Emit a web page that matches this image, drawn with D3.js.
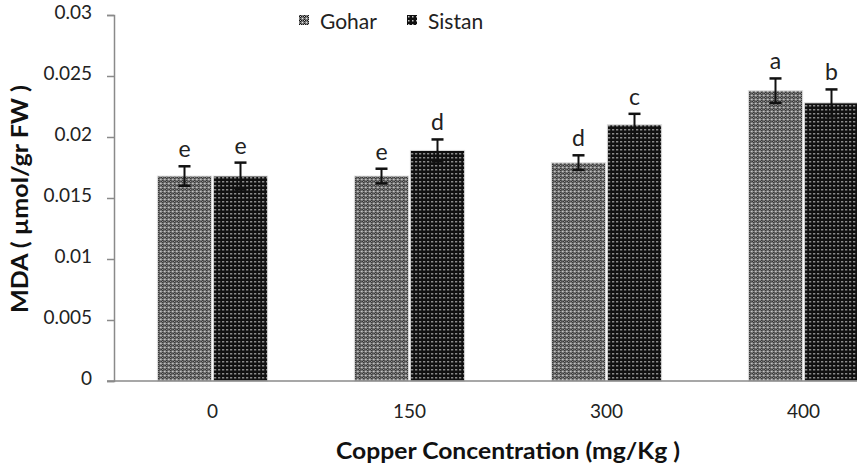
<!DOCTYPE html>
<html>
<head>
<meta charset="utf-8">
<script src="https://cdn.jsdelivr.net/npm/d3@7"></script>
<style>
  body { margin: 0; background: #fff; }
  svg { display: block; font-family: Lato, "Open Sans", sans-serif; }
</style>
</head>
<body>
<svg id="chart" width="857" height="466"></svg>
<script>
// data
var categories = ["0", "150", "300", "400"];
var series = ["Gohar", "Sistan"];
var gohar = [0.0168, 0.0168, 0.0179, 0.0238];
var sistan = [0.0168, 0.0189, 0.0210, 0.0228];
var goharErr = [0.0008, 0.0006, 0.0006, 0.0010];
var sistanErr = [0.0011, 0.0009, 0.0009, 0.0011];
var goharLetters = ["e", "e", "d", "a"];
var sistanLetters = ["e", "d", "c", "b"];
var yTicks = [0, 0.005, 0.01, 0.015, 0.02, 0.025, 0.03];

var svg = d3.select("#chart"),
    pLeft = 114, pRight = 902, pTop = 15, pBottom = 381;

var y = d3.scaleLinear().domain([0, 0.03]).range([pBottom, pTop]);
var x0 = d3.scaleBand().domain(categories).range([pLeft, pRight])
    .paddingInner(0.44).paddingOuter(0.22);
var x1 = d3.scaleBand().domain(series).range([0, x0.bandwidth()]).paddingInner(0.03);

// fill patterns (dotted Excel-like fills)
var defs = svg.append("defs");
var pg = defs.append("pattern").attr("id", "pGohar")
    .attr("patternUnits", "userSpaceOnUse").attr("width", 4).attr("height", 4);
pg.append("rect").attr("width", 4).attr("height", 4).attr("fill", "#7c7c7c");
[[1, 0], [0, 1], [2, 1], [1, 2]].forEach(function (p) {
    pg.append("rect").attr("x", p[0]).attr("y", p[1]).attr("width", 1).attr("height", 1).attr("fill", "#151515");
});
pg.append("rect").attr("x", 1).attr("y", 1).attr("width", 1).attr("height", 1).attr("fill", "#cfcfcf");
pg.append("rect").attr("x", 3).attr("y", 3).attr("width", 1).attr("height", 1).attr("fill", "#e6e6e6");

var ps = defs.append("pattern").attr("id", "pSistan")
    .attr("patternUnits", "userSpaceOnUse").attr("width", 4).attr("height", 4);
ps.append("rect").attr("width", 4).attr("height", 4).attr("fill", "#101010");
ps.append("rect").attr("x", 1).attr("y", 1).attr("width", 1.5).attr("height", 1.5).attr("fill", "#c8c8c8");

var fills = {Gohar: "url(#pGohar)", Sistan: "url(#pSistan)"};

// y axis
var yAxis = svg.append("g").attr("transform", "translate(" + pLeft + ",0)")
    .call(d3.axisLeft(y).tickValues(yTicks).tickSize(7).tickPadding(15)
        .tickFormat(function (d) { return d === 0 ? "0" : String(+d.toFixed(3)); }));
yAxis.select(".domain").attr("stroke", "#8a8a8a").attr("stroke-width", 1.5);
yAxis.selectAll(".tick line").attr("stroke", "#8a8a8a").attr("stroke-width", 1.5);
yAxis.selectAll(".tick text").attr("font-size", 19).attr("fill", "#222")
    .attr("font-family", "Lato, sans-serif").attr("dy", "0.2em");

// bars
var rows = categories.map(function (c, i) {
    return [
        {cat: c, s: "Gohar", v: gohar[i], e: goharErr[i], t: goharLetters[i]},
        {cat: c, s: "Sistan", v: sistan[i], e: sistanErr[i], t: sistanLetters[i]}
    ];
});

var groups = svg.selectAll(".grp").data(rows).enter().append("g")
    .attr("class", "grp")
    .attr("transform", function (d) { return "translate(" + x0(d[0].cat) + ",0)"; });

groups.selectAll("rect.bar").data(function (d) { return d; }).enter().append("rect")
    .attr("class", "bar")
    .attr("x", function (d) { return x1(d.s); })
    .attr("y", function (d) { return y(d.v); })
    .attr("width", x1.bandwidth())
    .attr("height", function (d) { return y(0) - y(d.v); })
    .attr("fill", function (d) { return fills[d.s]; })
    .attr("stroke", "#e2e2e2").attr("stroke-width", 1);

// error bars
var eb = groups.selectAll("g.err").data(function (d) { return d; }).enter().append("g")
    .attr("class", "err")
    .attr("stroke", "#111");
eb.append("line")
    .attr("x1", function (d) { return x1(d.s) + x1.bandwidth() / 2; })
    .attr("x2", function (d) { return x1(d.s) + x1.bandwidth() / 2; })
    .attr("y1", function (d) { return y(d.v + d.e); })
    .attr("y2", function (d) { return y(d.v - d.e); })
    .attr("stroke-width", 2);
eb.selectAll("line.cap").data(function (d) { return [d.v + d.e, d.v - d.e].map(function (v) { return {s: d.s, v: v}; }); })
    .enter().append("line").attr("class", "cap")
    .attr("x1", function (d) { return x1(d.s) + x1.bandwidth() / 2 - 6; })
    .attr("x2", function (d) { return x1(d.s) + x1.bandwidth() / 2 + 6; })
    .attr("y1", function (d) { return y(d.v); })
    .attr("y2", function (d) { return y(d.v); })
    .attr("stroke-width", 2.5);

// significance letters
groups.selectAll("text.let").data(function (d) { return d; }).enter().append("text")
    .attr("class", "let")
    .attr("x", function (d) { return x1(d.s) + x1.bandwidth() / 2; })
    .attr("y", function (d) { return y(d.v + d.e) - 9; })
    .attr("text-anchor", "middle")
    .attr("font-size", 23).attr("fill", "#222")
    .text(function (d) { return d.t; });

// x axis
var xAxis = svg.append("g").attr("transform", "translate(0," + pBottom + ")")
    .call(d3.axisBottom(x0).tickSize(0).tickPadding(24));
xAxis.select(".domain").remove();
svg.append("line").attr("x1", pLeft - 7).attr("x2", 857).attr("y1", pBottom).attr("y2", pBottom)
    .attr("stroke", "#8a8a8a").attr("stroke-width", 1.5);
xAxis.selectAll(".tick text").attr("font-size", 19).attr("fill", "#222")
    .attr("font-family", "Lato, sans-serif");

// axis titles
svg.append("text")
    .attr("x", (pLeft + pRight) / 2).attr("y", 459)
    .attr("text-anchor", "middle").attr("font-size", 22).attr("font-weight", "bold")
    .attr("fill", "#111")
    .attr("textLength", 344).attr("lengthAdjust", "spacingAndGlyphs")
    .text("Copper Concentration (mg/Kg )");

svg.append("text")
    .attr("transform", "translate(28,199) rotate(-90)")
    .attr("text-anchor", "middle").attr("font-size", 22).attr("font-weight", "bold")
    .attr("fill", "#111")
    .attr("textLength", 228).attr("lengthAdjust", "spacingAndGlyphs")
    .text("MDA ( µmol/gr FW  )");

// legend
var legend = svg.append("g").selectAll("g").data(series).enter().append("g")
    .attr("transform", function (d, i) { return "translate(" + (299 + i * 108) + ",15)"; });
legend.append("rect").attr("width", 10).attr("height", 10)
    .attr("fill", function (d) { return fills[d]; });
legend.append("text").attr("x", 21).attr("y", 14)
    .attr("font-size", 21).attr("fill", "#222")
    .text(function (d) { return d; });
</script>
</body>
</html>
